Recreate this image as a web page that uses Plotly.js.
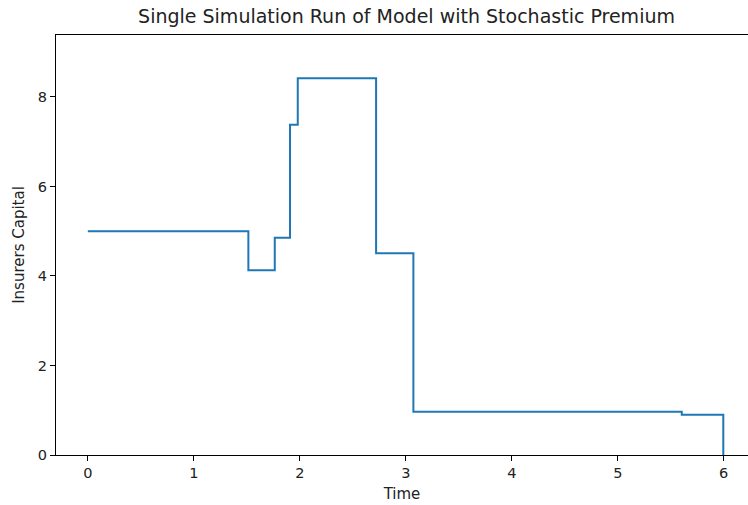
<!DOCTYPE html>
<html>
<head>
<meta charset="utf-8">
<script src="https://cdn.plot.ly/plotly-3.0.1.min.js"></script>
<style>html,body{margin:0;padding:0;background:#fff;}#chart{width:748px;height:505px;}</style>
</head>
<body>
<div id="chart"></div>
<script>
const time = [0, 1.515, 1.764, 1.908, 1.981, 2.72, 3.072, 5.604, 5.996];
const capital = [5.0, 4.127, 4.856, 7.381, 8.418, 4.507, 0.968, 0.90, 0.0];
const xTicks = [0, 1, 2, 3, 4, 5, 6];
const yTicks = [0, 2, 4, 6, 8];

const font = "DejaVu Sans, sans-serif";
const trace = {
  x: time, y: capital, type: 'scatter', mode: 'lines',
  line: {shape: 'hv', color: '#1f77b4', width: 2},
  hoverinfo: 'skip'
};
const axisCommon = {
  showgrid: false, zeroline: false, showline: true, linecolor: '#000', linewidth: 1,
  ticks: 'outside', ticklen: 5, tickwidth: 1, tickcolor: '#000',
  tickfont: {family: font, size: 14.5, color: '#222'}
};
const layout = {
  width: 748, height: 505,
  margin: {l: 56, r: 0, t: 35, b: 50},
  paper_bgcolor: '#fff', plot_bgcolor: '#fff',
  showlegend: false,
  title: {text: 'Single Simulation Run of Model with Stochastic Premium',
          font: {family: font, size: 19, color: '#222'},
          x: 0.5435, xref: 'container', xanchor: 'center', y: 1, yref: 'container', yanchor: 'top', pad: {t: 10}},
  xaxis: Object.assign({}, axisCommon, {
    range: [-0.3, 6.229], tickvals: xTicks, ticktext: xTicks.map(String), mirror: true,
    title: {text: 'Time', font: {family: font, size: 15, color: '#222'}, standoff: 8}
  }),
  yaxis: Object.assign({}, axisCommon, {
    range: [0, 9.385], tickvals: yTicks, ticktext: yTicks.map(String),
    title: {text: 'Insurers Capital', font: {family: font, size: 15, color: '#222'}, standoff: 9}
  })
};
Plotly.newPlot('chart', [trace], layout, {displayModeBar: false, staticPlot: true});
</script>
</body>
</html>
